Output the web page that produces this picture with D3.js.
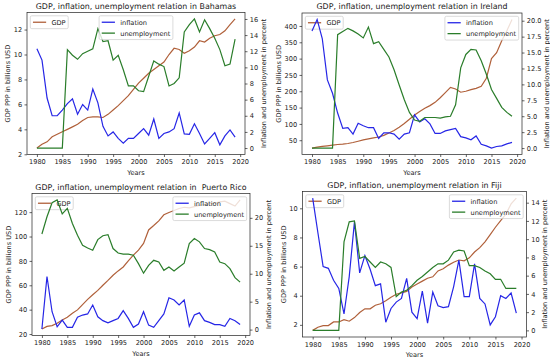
<!DOCTYPE html>
<html>
<head>
<meta charset="utf-8">
<script src="https://cdn.jsdelivr.net/npm/d3@7"></script>
<style>
  body { margin: 0; background: #fff; }
  svg text { font-family: "DejaVu Sans", sans-serif; fill: #222; }
</style>
</head>
<body>
<div id="chart"></div>
<script>
// years shown on every panel
const years = [1980, 1981, 1982, 1983, 1984, 1985, 1986, 1987, 1988, 1989,
               1990, 1991, 1992, 1993, 1994, 1995, 1996, 1997, 1998, 1999,
               2000, 2001, 2002, 2003, 2004, 2005, 2006, 2007, 2008, 2009,
               2010, 2011, 2012, 2013, 2014, 2015, 2016, 2017, 2018, 2019];
const yearTicks = [1980, 1985, 1990, 1995, 2000, 2005, 2010, 2015, 2020];

// Bahamas
const bahamasGdp = [2.5, 2.8, 3.0, 3.4, 3.6, 3.8, 4.0, 4.2, 4.4, 4.7,
                    4.95, 5.0, 5.0, 4.95, 5.2, 5.55, 5.9, 6.3, 6.7, 7.2,
                    7.7, 8.1, 8.5, 8.8, 9.1, 9.4, 10.0, 10.5, 10.4, 10.1,
                    10.3, 10.6, 11.1, 11.0, 11.3, 11.5, 11.6, 11.9, 12.4, 12.85];
const bahamasInflation = [12.3, 10.9, 6.2, 4.0, 4.0, 4.7, 5.5, 6.1, 4.2, 5.4,
                          4.7, 7.3, 5.6, 2.7, 1.5, 2.0, 1.2, 0.6, 1.2, 1.2,
                          1.8, 2.4, 1.6, 3.6, 1.2, 1.8, 2.0, 2.4, 4.35, 1.75,
                          1.7, 3.0, 1.8, 0.5, 1.2, 1.9, 0.4, 1.5, 2.25, 1.35];
const bahamasUnemployment = [0, 0, 0, 0, 0, 0, 12.2, 11.5, 11.0, 11.7,
                             12.0, 12.3, 14.8, 13.2, 13.3, 10.9, 11.5, 9.7, 7.7, 7.7,
                             7.1, 7.0, 8.9, 10.8, 10.4, 10.1, 7.7, 8.0, 8.7, 14.4,
                             15.3, 16.0, 14.4, 15.9, 14.8, 13.6, 12.2, 10.2, 10.4, 13.5];
const bahamasGdpTicks = [2, 4, 6, 8, 10, 12];
const bahamasRateTicks = [0, 2, 4, 6, 8, 10, 12, 14, 16];

// Ireland
const irelandGdp = [26, 29, 31, 33, 35, 37, 38, 40, 43, 47,
                    51, 54, 57, 60, 65, 72, 80, 90, 101, 114,
                    127, 138, 148, 156, 166, 180, 196, 212, 207, 197,
                    200, 205, 209, 215, 240, 300, 318, 355, 385, 420];
const irelandInflation = [18.4, 20.2, 17.2, 10.7, 8.6, 5.5, 3.1, 3.2, 2.2, 3.9,
                          3.5, 3.2, 3.2, 1.5, 2.4, 2.4, 2.2, 1.4, 2.2, 2.4,
                          5.2, 4.1, 4.6, 3.8, 2.3, 2.3, 2.7, 2.9, 3.1, 1.8,
                          1.6, 1.3, 1.9, 0.6, 0.35, 0.0, 0.25, 0.35, 0.65, 0.9];
const irelandUnemployment = [0, 0, 0, 0, 0, 17.8, 18.3, 18.8, 18.4, 17.9,
                             17.3, 19.0, 16.4, 16.7, 15.5, 14.3, 12.3, 9.9, 7.6, 5.6,
                             4.4, 4.2, 4.8, 4.8, 4.8, 4.7, 4.9, 5.0, 6.8, 12.6,
                             14.7, 15.5, 15.4, 13.7, 11.6, 9.2, 7.8, 6.4, 5.6, 5.0];
const irelandGdpTicks = [50, 100, 150, 200, 250, 300, 350, 400];
const irelandRateTicks = [0, 2.5, 5, 7.5, 10, 12.5, 15, 17.5, 20];

// Puerto Rico
const puertoRicoGdp = [24.1, 26.3, 26.9, 28.8, 31.6, 33.8, 37.0, 39.8, 44.2, 48.4,
                       52.2, 55.8, 60.0, 64.0, 68.2, 71.8, 75.0, 80.0, 84.7, 88.9,
                       94.4, 105.4, 109.0, 112.8, 117.8, 119.7, 121.4, 123.0, 124.0, 123.5,
                       124.5, 125.5, 126.5, 127.0, 127.5, 128.5, 129.0, 127.0, 125.0, 130.0];
const puertoRicoInflation = [0.1, 9.5, 3.2, 0.5, 1.7, 0.4, 0.4, 2.2, 2.6, 2.8,
                             4.4, 2.3, 1.6, 1.2, 1.6, 2.0, 3.4, 2.0, 0.4, 1.0,
                             3.2, 0.8, 0.4, 1.6, 2.8, 5.7, 5.3, 4.4, 5.3, 0.6,
                             2.6, 3.0, 1.6, 1.3, 0.9, 0.9, 0.6, 2.0, 1.6, 0.9];
const puertoRicoUnemployment = [17.1, 20.2, 22.7, 23.2, 20.7, 21.7, 19.0, 16.9, 15.1, 14.6,
                                14.2, 16.1, 16.8, 17.0, 14.5, 13.7, 13.5, 13.5, 13.3, 11.8,
                                10.1, 11.5, 12.4, 12.1, 10.6, 11.2, 10.5, 11.2, 11.9, 15.4,
                                16.3, 15.7, 14.5, 14.3, 13.9, 12.1, 11.8, 10.9, 9.3, 8.5];
const puertoRicoGdpTicks = [20, 40, 60, 80, 100, 120];
const puertoRicoRateTicks = [0, 5, 10, 15, 20];

// Fiji
const fijiGdp = [1.62, 1.84, 1.95, 1.95, 2.2, 2.2, 2.35, 2.25, 2.5, 2.85,
                 3.1, 3.1, 3.35, 3.45, 3.65, 3.9, 4.1, 4.2, 4.3, 4.6,
                 4.8, 5.0, 5.2, 5.3, 5.7, 5.85, 6.1, 6.3, 6.45, 6.4,
                 6.6, 7.0, 7.3, 7.7, 8.2, 8.7, 9.15, 9.6, 10.3, 10.7];
const fijiInflation = [14.5, 10.7, 7.0, 6.8, 5.5, 4.6, 1.8, 5.9, 11.9, 6.3,
                       8.2, 6.7, 4.9, 5.1, 0.9, 2.4, 3.1, 3.5, 5.7, 2.0,
                       1.3, 4.3, 0.8, 4.2, 2.7, 2.5, 2.6, 4.8, 7.7, 3.7,
                       3.7, 7.3, 3.5, 2.9, 0.6, 1.5, 3.8, 3.5, 4.1, 1.9];
const fijiUnemployment = [0, 0, 0, 0, 0, 0, 9.7, 11.9, 12.0, 7.9,
                          8.1, 7.5, 6.9, 7.5, 7.3, 6.9, 3.7, 4.2, 4.4, 4.9,
                          5.5, 5.9, 6.4, 6.9, 7.3, 7.3, 7.7, 8.6, 8.8, 8.7,
                          7.1, 7.1, 6.9, 6.5, 6.2, 5.6, 5.6, 4.6, 4.6, 4.6];
const fijiGdpTicks = [2, 4, 6, 8, 10];
const fijiRateTicks = [0, 2, 4, 6, 8, 10, 12, 14];

const FS = 6.6;        // tick / label / legend font size
const TITLE_FS = 7.9;
const colors = { gdp: "#b0603a", inflation: "#2626e6", unemployment: "#2a7d2a" };

const panels = [
  { title: "GDP, inflation, unemployment relation in Bahamas",
    gdp: bahamasGdp, inflation: bahamasInflation, unemployment: bahamasUnemployment,
    gdpTicks: bahamasGdpTicks, rateTicks: bahamasRateTicks, rateFmt: "d",
    box: { left: 27, right: 245, top: 12.5, bottom: 154.5 }, rateLoc: "center" },
  { title: "GDP, inflation, unemployment relation in Ireland",
    gdp: irelandGdp, inflation: irelandInflation, unemployment: irelandUnemployment,
    gdpTicks: irelandGdpTicks, rateTicks: irelandRateTicks, rateFmt: ".1f",
    box: { left: 302, right: 522, top: 13, bottom: 154.5 }, rateLoc: "right" },
  { title: "GDP, inflation, unemployment relation in  Puerto Rico",
    gdp: puertoRicoGdp, inflation: puertoRicoInflation, unemployment: puertoRicoUnemployment,
    gdpTicks: puertoRicoGdpTicks, rateTicks: puertoRicoRateTicks, rateFmt: "d",
    box: { left: 32, right: 250, top: 193.5, bottom: 335.5 }, rateLoc: "right" },
  { title: "GDP, inflation, unemployment relation in Fiji",
    gdp: fijiGdp, inflation: fijiInflation, unemployment: fijiUnemployment,
    gdpTicks: fijiGdpTicks, rateTicks: fijiRateTicks, rateFmt: "d",
    box: { left: 302.5, right: 526.5, top: 191.5, bottom: 337 }, rateLoc: "right" }
];

// matplotlib-like autoscale: 5% margin on each side
function padded(ext) {
  const m = (ext[1] - ext[0]) * 0.05;
  return [ext[0] - m, ext[1] + m];
}

function drawLegend(g, items, loc, box) {
  const pad = 0.4 * FS, handle = 2 * FS, hpad = 0.8 * FS, rowH = 1.15 * FS, gap = 0.5 * FS, axPad = 0.5 * FS;
  const lg = g.append("g");
  const rect = lg.append("rect")
    .attr("fill", "#fff").attr("fill-opacity", 0.8)
    .attr("stroke", "#ccc").attr("stroke-width", 0.7)
    .attr("rx", 1.5);
  const texts = items.map(d => lg.append("text").attr("font-size", FS).text(d.label));
  const tw = d3.max(texts, t => t.node().getComputedTextLength());
  const w = 2 * pad + handle + hpad + tw;
  const h = 2 * pad + items.length * rowH + (items.length - 1) * gap;
  let x0;
  if (loc === "left") x0 = box.left + axPad;
  else if (loc === "right") x0 = box.right - axPad - w;
  else x0 = (box.left + box.right) / 2 - w / 2;
  const y0 = box.top + axPad;
  rect.attr("x", x0).attr("y", y0).attr("width", w).attr("height", h);
  items.forEach((d, i) => {
    const cy = y0 + pad + i * (rowH + gap) + rowH / 2;
    lg.append("line")
      .attr("x1", x0 + pad).attr("x2", x0 + pad + handle)
      .attr("y1", cy).attr("y2", cy)
      .attr("stroke", d.color).attr("stroke-width", 1.3);
    texts[i].attr("x", x0 + pad + handle + hpad).attr("y", cy + 0.36 * FS);
  });
}

function drawPanel(svg, p) {
  const b = p.box;
  const g = svg.append("g");

  const x = d3.scaleLinear().domain(padded(d3.extent(years))).range([b.left, b.right]);
  const yL = d3.scaleLinear().domain(padded(d3.extent(p.gdp))).range([b.bottom, b.top]);
  const yR = d3.scaleLinear()
    .domain(padded(d3.extent(p.inflation.concat(p.unemployment))))
    .range([b.bottom, b.top]);

  // axes
  const xAx = g.append("g").attr("transform", `translate(0,${b.bottom})`)
    .call(d3.axisBottom(x).tickValues(yearTicks).tickFormat(d3.format("d"))
      .tickSize(2.5).tickPadding(2.6).tickSizeOuter(0));
  const lAx = g.append("g").attr("transform", `translate(${b.left},0)`)
    .call(d3.axisLeft(yL).tickValues(p.gdpTicks).tickFormat(d3.format("d"))
      .tickSize(2.5).tickPadding(2.3).tickSizeOuter(0));
  const rAx = g.append("g").attr("transform", `translate(${b.right},0)`)
    .call(d3.axisRight(yR).tickValues(p.rateTicks).tickFormat(d3.format(p.rateFmt))
      .tickSize(2.5).tickPadding(2.3).tickSizeOuter(0));
  [xAx, lAx, rAx].forEach(a => {
    a.select(".domain").remove();
    a.selectAll("text").attr("font-size", FS).attr("font-family", "DejaVu Sans").attr("fill", "#222");
    a.selectAll("line").attr("stroke", "#222").attr("stroke-width", 0.7);
  });

  // GDP (left axis) line and legend
  const lineL = d3.line().x((d, i) => x(years[i])).y(d => yL(d));
  g.append("path").datum(p.gdp)
    .attr("d", lineL).attr("fill", "none")
    .attr("stroke", colors.gdp).attr("stroke-width", 1.2);
  drawLegend(g, [{ label: "GDP", color: colors.gdp }], "left", b);

  // twin axis lines and legend
  const lineR = d3.line().x((d, i) => x(years[i])).y(d => yR(d));
  g.append("path").datum(p.inflation)
    .attr("d", lineR).attr("fill", "none")
    .attr("stroke", colors.inflation).attr("stroke-width", 1.2);
  g.append("path").datum(p.unemployment)
    .attr("d", lineR).attr("fill", "none")
    .attr("stroke", colors.unemployment).attr("stroke-width", 1.2);
  drawLegend(g, [{ label: "inflation", color: colors.inflation },
                 { label: "unemployment", color: colors.unemployment }], p.rateLoc, b);

  // frame
  g.append("rect")
    .attr("x", b.left).attr("y", b.top)
    .attr("width", b.right - b.left).attr("height", b.bottom - b.top)
    .attr("fill", "none").attr("stroke", "#222").attr("stroke-width", 0.7);

  // title and labels
  g.append("text")
    .attr("x", (b.left + b.right) / 2).attr("y", b.top - 3.8)
    .attr("text-anchor", "middle").attr("font-size", TITLE_FS)
    .style("white-space", "pre")
    .text(p.title);
  g.append("text")
    .attr("x", (b.left + b.right) / 2).attr("y", b.bottom + 20)
    .attr("text-anchor", "middle").attr("font-size", FS)
    .text("Years");

  const lb = lAx.node().getBBox();
  g.append("text")
    .attr("transform", `translate(${b.left + lb.x - 3.6},${(b.top + b.bottom) / 2}) rotate(-90)`)
    .attr("text-anchor", "middle").attr("font-size", FS)
    .text("GDP PPP in billions USD");
  const rb = rAx.node().getBBox();
  g.append("text")
    .attr("transform", `translate(${b.right + rb.x + rb.width + 7.4},${(b.top + b.bottom) / 2}) rotate(-90)`)
    .attr("text-anchor", "middle").attr("font-size", FS)
    .text("Inflation and unemployment in percent");
}

const svg = d3.select("#chart").append("svg")
  .attr("width", 550).attr("height", 362);
svg.append("rect").attr("width", 550).attr("height", 362).attr("fill", "#fff");

panels.forEach(p => drawPanel(svg, p));
</script>
</body>
</html>
